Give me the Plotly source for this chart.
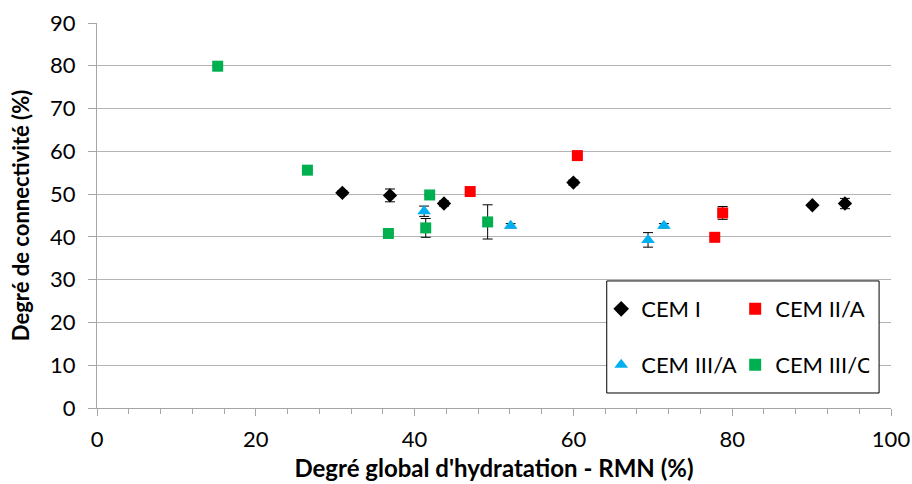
import plotly.graph_objects as go

# CEM I
cem1_x = [30.9, 36.9, 43.7, 60.0, 90.1, 94.2]
cem1_y = [50.3, 49.7, 47.8, 52.7, 47.4, 47.8]
cem1_err = [0.5, 1.5, 0.6, 0.6, 0.0, 1.2]
# CEM II/A
cem2a_x = [47.0, 60.5, 78.8, 77.8]
cem2a_y = [50.6, 59.0, 45.6, 39.9]
cem2a_err = [0.0, 0.0, 1.5, 0.4]
# CEM III/A
cem3a_x = [41.2, 52.1, 69.4, 71.4]
cem3a_y = [46.0, 42.6, 39.3, 42.6]
cem3a_err = [1.2, 0.5, 1.7, 0.5]
# CEM III/C
cem3c_x = [15.2, 26.5, 36.7, 41.4, 41.9, 49.2]
cem3c_y = [79.9, 55.6, 40.8, 42.1, 49.8, 43.5]
cem3c_err = [0.0, 0.0, 0.0, 2.2, 0.0, 4.0]

x_ticks = [0, 20, 40, 60, 80, 100]
y_ticks = [0, 10, 20, 30, 40, 50, 60, 70, 80, 90]

FONT = "Lato"
TICK_SIZE = 22

fig = go.Figure()

def add(name, xs, ys, errs, color, symbol, size, legend):
    fig.add_trace(go.Scatter(
        x=xs, y=ys, mode="markers", name=name, legend=legend,
        marker=dict(color=color, symbol=symbol, size=size, line=dict(width=0)),
        error_y=dict(type="data", array=errs, visible=True, color="black",
                     thickness=1, width=5),
    ))

add("CEM I", cem1_x, cem1_y, cem1_err, "#000000", "diamond", 11, "legend")
add("CEM II/A", cem2a_x, cem2a_y, cem2a_err, "#FF0000", "square", 11, "legend")
add("CEM III/A", cem3a_x, cem3a_y, cem3a_err, "#00B0F0", "triangle-up", 12, "legend2")
add("CEM III/C", cem3c_x, cem3c_y, cem3c_err, "#00B050", "square", 11, "legend2")

# Legend box
fig.add_shape(type="rect", xref="paper", yref="paper",
              x0=0.642, x1=0.985, y0=0.039, y1=0.330,
              fillcolor="white", line=dict(color="black", width=1), layer="above")

legend_common = dict(orientation="h", bgcolor="rgba(0,0,0,0)", borderwidth=0,
                     font=dict(family=FONT, size=22, color="black"),
                     entrywidth=89, entrywidthmode="pixels",
                     xanchor="left", yanchor="middle", itemsizing="constant")

fig.update_layout(
    width=912, height=484,
    margin=dict(l=97, r=21, t=23, b=76, autoexpand=False),
    paper_bgcolor="white", plot_bgcolor="white",
    font=dict(family=FONT, size=20, color="black"),
    showlegend=True,
    legend=dict(x=0.635, y=0.257, **legend_common),
    legend2=dict(x=0.635, y=0.112, **legend_common),
    xaxis=dict(
        range=[0, 100], tickvals=x_ticks, ticktext=[str(v) for v in x_ticks],
        showgrid=False, zeroline=False, automargin=False,
        showline=True, linecolor="#A6A6A6", linewidth=1,
        ticks="outside", ticklen=7, tickcolor="#A6A6A6", ticklabelstandoff=5,
        minor=dict(dtick=4, ticks="outside", ticklen=5, tickcolor="#A6A6A6", showgrid=False),
        tickfont=dict(family=FONT, size=TICK_SIZE, color="black"),
        title=dict(text="<b>Degré global d'hydratation - RMN (%)</b>",
                   font=dict(family=FONT, size=24, color="black"), standoff=8),
    ),
    yaxis=dict(
        range=[0, 90], tickvals=y_ticks, ticktext=[str(v) for v in y_ticks],
        showgrid=True, gridcolor="#B3B3B3", gridwidth=1, zeroline=False, automargin=False,
        showline=True, linecolor="#A6A6A6", linewidth=1,
        ticks="outside", ticklen=8, tickcolor="#A6A6A6", ticklabelstandoff=8,
        tickfont=dict(family=FONT, size=TICK_SIZE, color="black"),
        title=dict(text="<b>Degré de connectivité (%)</b>",
                   font=dict(family=FONT, size=22, color="black"), standoff=14),
    ),
)

fig.write_html("out.html",
               config={"displayModeBar": False},
               post_script="document.body.style.margin='0';document.body.style.overflow='hidden';")
